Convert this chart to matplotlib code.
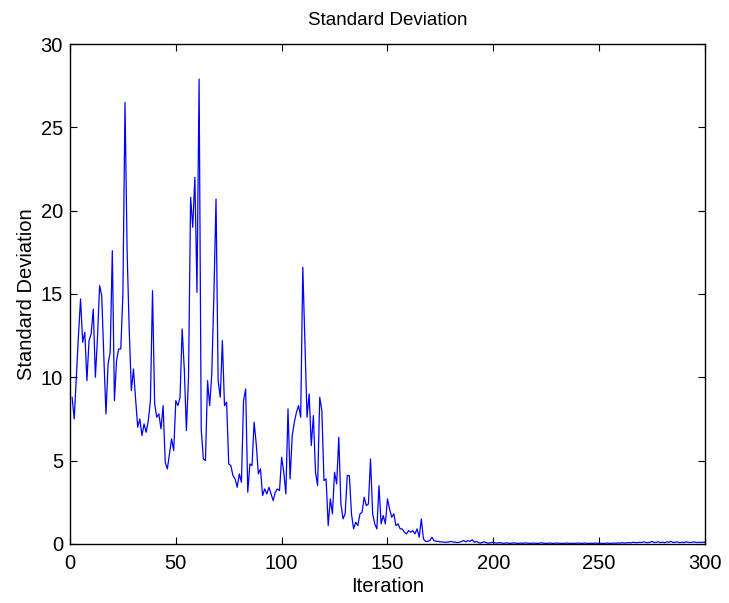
import numpy as np
import matplotlib
matplotlib.use('Agg')
import matplotlib.pyplot as plt

plt.rcParams['font.family'] = ['Liberation Sans', 'DejaVu Sans']

## values, one per iteration (1..300)
std_head = [8.8, 7.5, 10.0, 12.5, 14.7, 12.1, 12.7, 9.8, 12.2, 12.6,
            14.1, 10.0, 12.4, 15.5, 14.9, 11.2, 7.8, 10.8, 11.5, 17.6,
            8.6, 11.0, 11.7, 11.7, 15.0, 26.5, 17.5, 12.8, 9.2, 10.5,
            8.7, 7.0, 7.5, 6.5, 7.2, 6.7, 7.4, 8.6, 15.2, 8.4,
            7.6, 7.8, 6.9, 8.3, 4.9, 4.5, 5.4, 6.3, 5.6, 8.6,
            8.3, 8.8, 12.9, 10.5, 6.8, 10.0, 20.8, 19.0, 22.0, 15.1,
            27.9, 6.9, 5.1, 5.0, 9.8, 8.3, 10.2, 15.0, 20.7, 9.8,
            8.8, 12.2, 8.3, 8.5, 4.8, 4.7, 4.1, 3.9, 3.4, 4.2,
            3.7, 8.6, 9.3, 3.1, 4.8, 4.7, 7.3, 6.0, 4.2, 4.5,
            2.9, 3.3, 3.0, 3.4, 3.0, 2.6, 3.1, 3.3, 3.2, 5.2,
            4.3, 3.0, 8.1, 3.9, 6.5, 7.3, 7.9, 8.3, 7.6, 16.6,
            12.0, 7.6, 9.0, 5.9, 7.7, 4.3, 3.5, 8.8, 8.0, 3.8,
            3.9, 1.1, 2.7, 1.8, 4.3, 3.6, 6.4, 2.4, 1.5, 1.8,
            4.1, 4.1, 1.8, 0.9, 1.3, 1.1, 1.8, 1.9, 2.8, 2.3,
            2.4, 5.1, 1.8, 1.2, 0.9, 3.5, 1.2, 1.7, 1.2, 2.7,
            2.1, 1.6, 1.8, 1.1, 1.2, 0.9, 0.9, 0.7, 0.6, 0.8,
            0.7, 0.8, 0.6, 0.9, 0.4, 1.5, 0.3, 0.15, 0.15]

std_tail = [0.2, 0.4, 0.2, 0.15, 0.15, 0.12, 0.12, 0.1, 0.1, 0.12,
            0.15, 0.12, 0.1, 0.08, 0.1, 0.15, 0.2, 0.12, 0.2, 0.15,
            0.25, 0.1, 0.15, 0.08, 0.05, 0.1, 0.12, 0.05, 0.05, 0.08,
            0.1, 0.06, 0.05, 0.08, 0.05, 0.04, 0.06, 0.05, 0.03, 0.05,
            0.06, 0.04, 0.03, 0.05, 0.04, 0.06, 0.05, 0.03, 0.04, 0.05,
            0.04, 0.03, 0.05, 0.06, 0.04, 0.03, 0.04, 0.05, 0.03, 0.04,
            0.05, 0.04, 0.03, 0.03, 0.04, 0.05, 0.03, 0.04, 0.03, 0.04,
            0.05, 0.04, 0.03, 0.05, 0.04, 0.03, 0.04, 0.03, 0.05, 0.04,
            0.03, 0.04, 0.03, 0.04, 0.05, 0.03, 0.04, 0.05, 0.04, 0.06,
            0.05, 0.07, 0.05, 0.06, 0.08, 0.06, 0.1, 0.08, 0.07, 0.1,
            0.08, 0.12, 0.09, 0.07, 0.1, 0.15, 0.08, 0.1, 0.12, 0.08,
            0.1, 0.07, 0.12, 0.1, 0.15, 0.08, 0.1, 0.12, 0.07, 0.1,
            0.08, 0.12, 0.1, 0.08, 0.1, 0.12, 0.08, 0.1, 0.09, 0.1,
            0.1]

std_dev = std_head + std_tail
iterations = np.arange(1, len(std_dev) + 1)

x_ticks = [0, 50, 100, 150, 200, 250, 300]
y_ticks = [0, 5, 10, 15, 20, 25, 30]

fig = plt.figure(figsize=(7.29, 6.03), dpi=100)
ax = fig.add_axes([0.096, 0.098, 0.871, 0.829])
ax.plot(iterations, std_dev, color=(0, 0, 1), linewidth=0.9)

ax.set_xlim(0, 300)
ax.set_ylim(0, 30)
ax.set_xticks(x_ticks)
ax.set_yticks(y_ticks)
ax.tick_params(direction='in', top=True, right=True, labelsize=14.5, length=5)
ax.tick_params(axis='x', pad=7)
ax.tick_params(axis='y', pad=5)
for s in ax.spines.values():
    s.set_linewidth(1.0)

ax.set_xlabel('Iteration', fontsize=14.5, labelpad=3)
ax.set_ylabel('Standard Deviation', fontsize=14.5, labelpad=3)
ax.set_title('Standard Deviation', fontsize=13.5, pad=14)

fig.savefig('out.png', dpi=100)
